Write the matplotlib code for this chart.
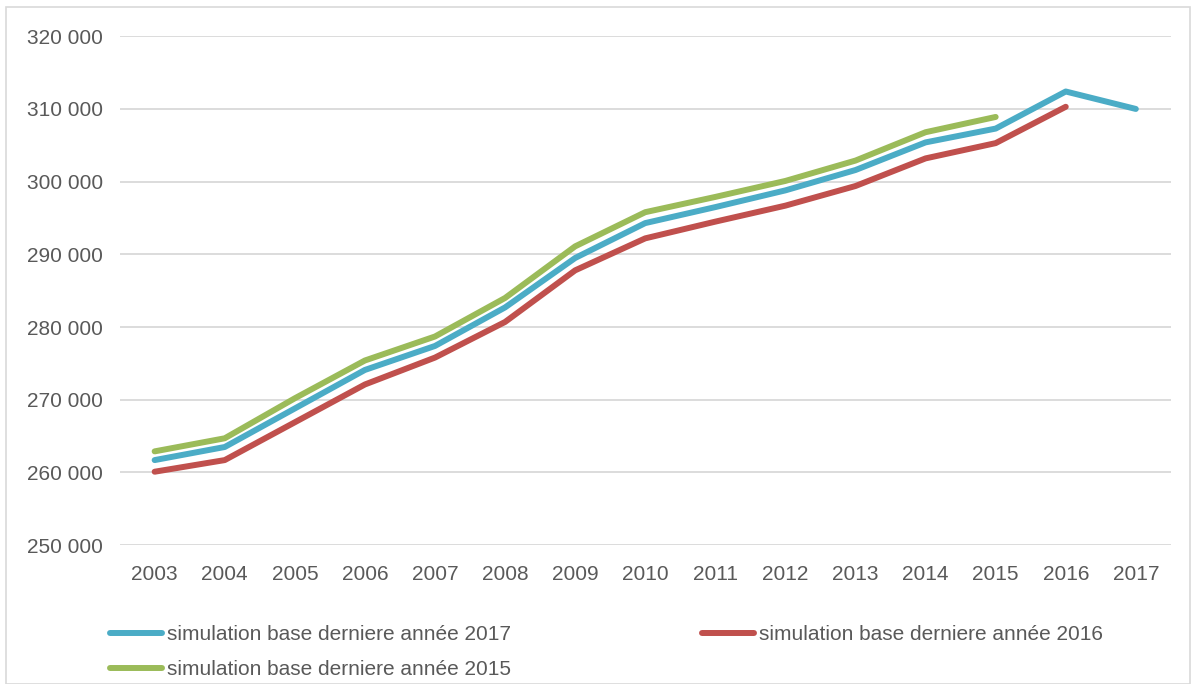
import matplotlib.pyplot as plt
from matplotlib.patches import Rectangle

years = list(range(2003, 2018))

base_2017 = [261700, 263500, 268800, 274100, 277400, 282700, 289500, 294300,
             296500, 298800, 301600, 305400, 307300, 312400, 310000]
base_2016 = [260100, 261700, 266900, 272100, 275800, 280700, 287800, 292200,
             294500, 296700, 299400, 303200, 305300, 310300]
base_2015 = [262900, 264700, 270200, 275400, 278700, 284000, 291100, 295800,
             297900, 300100, 302900, 306800, 308900]

labels = ["simulation base derniere année 2017",
          "simulation base derniere année 2016",
          "simulation base derniere année 2015"]
colors = ["#4BACC6", "#C0504D", "#9BBB59"]

plt.rcParams["font.family"] = ["Liberation Sans", "DejaVu Sans"]

fig = plt.figure(figsize=(11.96, 6.84), dpi=100)
ax = fig.add_axes([0.1, 0.203, 0.879, 0.744])

series = [base_2017, base_2016, base_2015]
lines = []
for vals, lab, col in zip(series, labels, colors):
    ln, = ax.plot(years[:len(vals)], vals, color=col, lw=4.3,
                  solid_capstyle="round", solid_joinstyle="round", label=lab)
    lines.append(ln)

ax.set_xlim(2002.5, 2017.5)
ax.set_ylim(250000, 320000)
ax.set_xticks(years)
ax.set_yticks(range(250000, 320001, 10000))
ax.set_yticklabels([f"{v // 1000} 000" for v in range(250000, 320001, 10000)])
ax.grid(axis="y", color="#D9D9D9", lw=1.3)
ax.set_axisbelow(True)
for s in ax.spines.values():
    s.set_visible(False)
ax.tick_params(length=0, labelsize=15, colors="#595959")
ax.tick_params(axis="x", pad=14)
ax.tick_params(axis="y", pad=12)

# ordre des entrees pour remplir ligne par ligne
fig.legend([lines[0], lines[2], lines[1]], [labels[0], labels[2], labels[1]],
           ncol=2, loc="upper left", bbox_to_anchor=(0.0847, 0.098),
           frameon=False, fontsize=15, handlelength=2.5, handletextpad=0.25,
           columnspacing=9.15, labelspacing=0.75, labelcolor="#595959",
           borderaxespad=0)

fig.patches.append(Rectangle((0.005, 0.0), 0.99, 0.99, transform=fig.transFigure,
                             fill=False, edgecolor="#D9D9D9", lw=1.2))

fig.savefig("out.png", dpi=100)
